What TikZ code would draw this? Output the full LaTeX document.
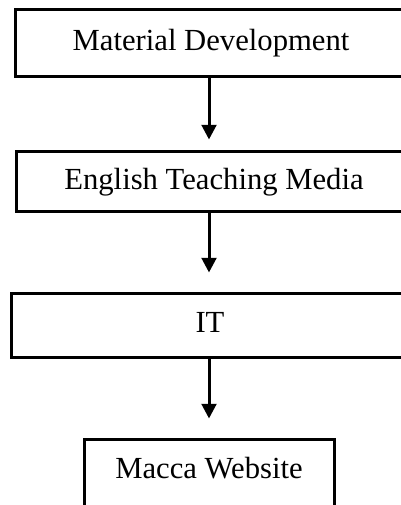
\documentclass[tikz,border=0pt]{standalone}
\usepackage{fontspec}
\setmainfont{Liberation Serif}
\usetikzlibrary{arrows.meta,positioning}

\tikzset{
  stagebox/.style={draw,line width=2.25pt,rectangle,inner sep=0pt,
    text height=16.1pt,text depth=5.06pt,font=\fontsize{23}{27}\selectfont},
  flow/.style={line width=2.25pt,-{Triangle[length=11pt,width=11pt]}}
}

\begin{document}
\begin{tikzpicture}[x=0.75pt,y=-0.75pt]
		\useasboundingbox (0,0) rectangle (400,505);
		\node[stagebox,minimum width=294pt,minimum height=50.25pt] (md) at (211,43.5) {Material Development};
		\node[stagebox,minimum width=297pt,minimum height=45pt] (etm) at (214,182) {English Teaching Media};
		\node[stagebox,minimum width=298.5pt,minimum height=48pt] (it) at (210,325) {IT};
		\node[stagebox,minimum width=187.5pt,minimum height=54pt,text depth=11pt] (mw) at (209,475) {Macca Website};
		\coordinate (axis) at (209,0);
		\draw[flow,shorten >=8.25pt] (md.south -| axis) -- (axis |- etm.north);
		\draw[flow,shorten >=14.25pt] (etm.south -| axis) -- (axis |- it.north);
		\draw[flow,shorten >=14.25pt] (it.south -| axis) -- (axis |- mw.north);
\end{tikzpicture}
\end{document}
